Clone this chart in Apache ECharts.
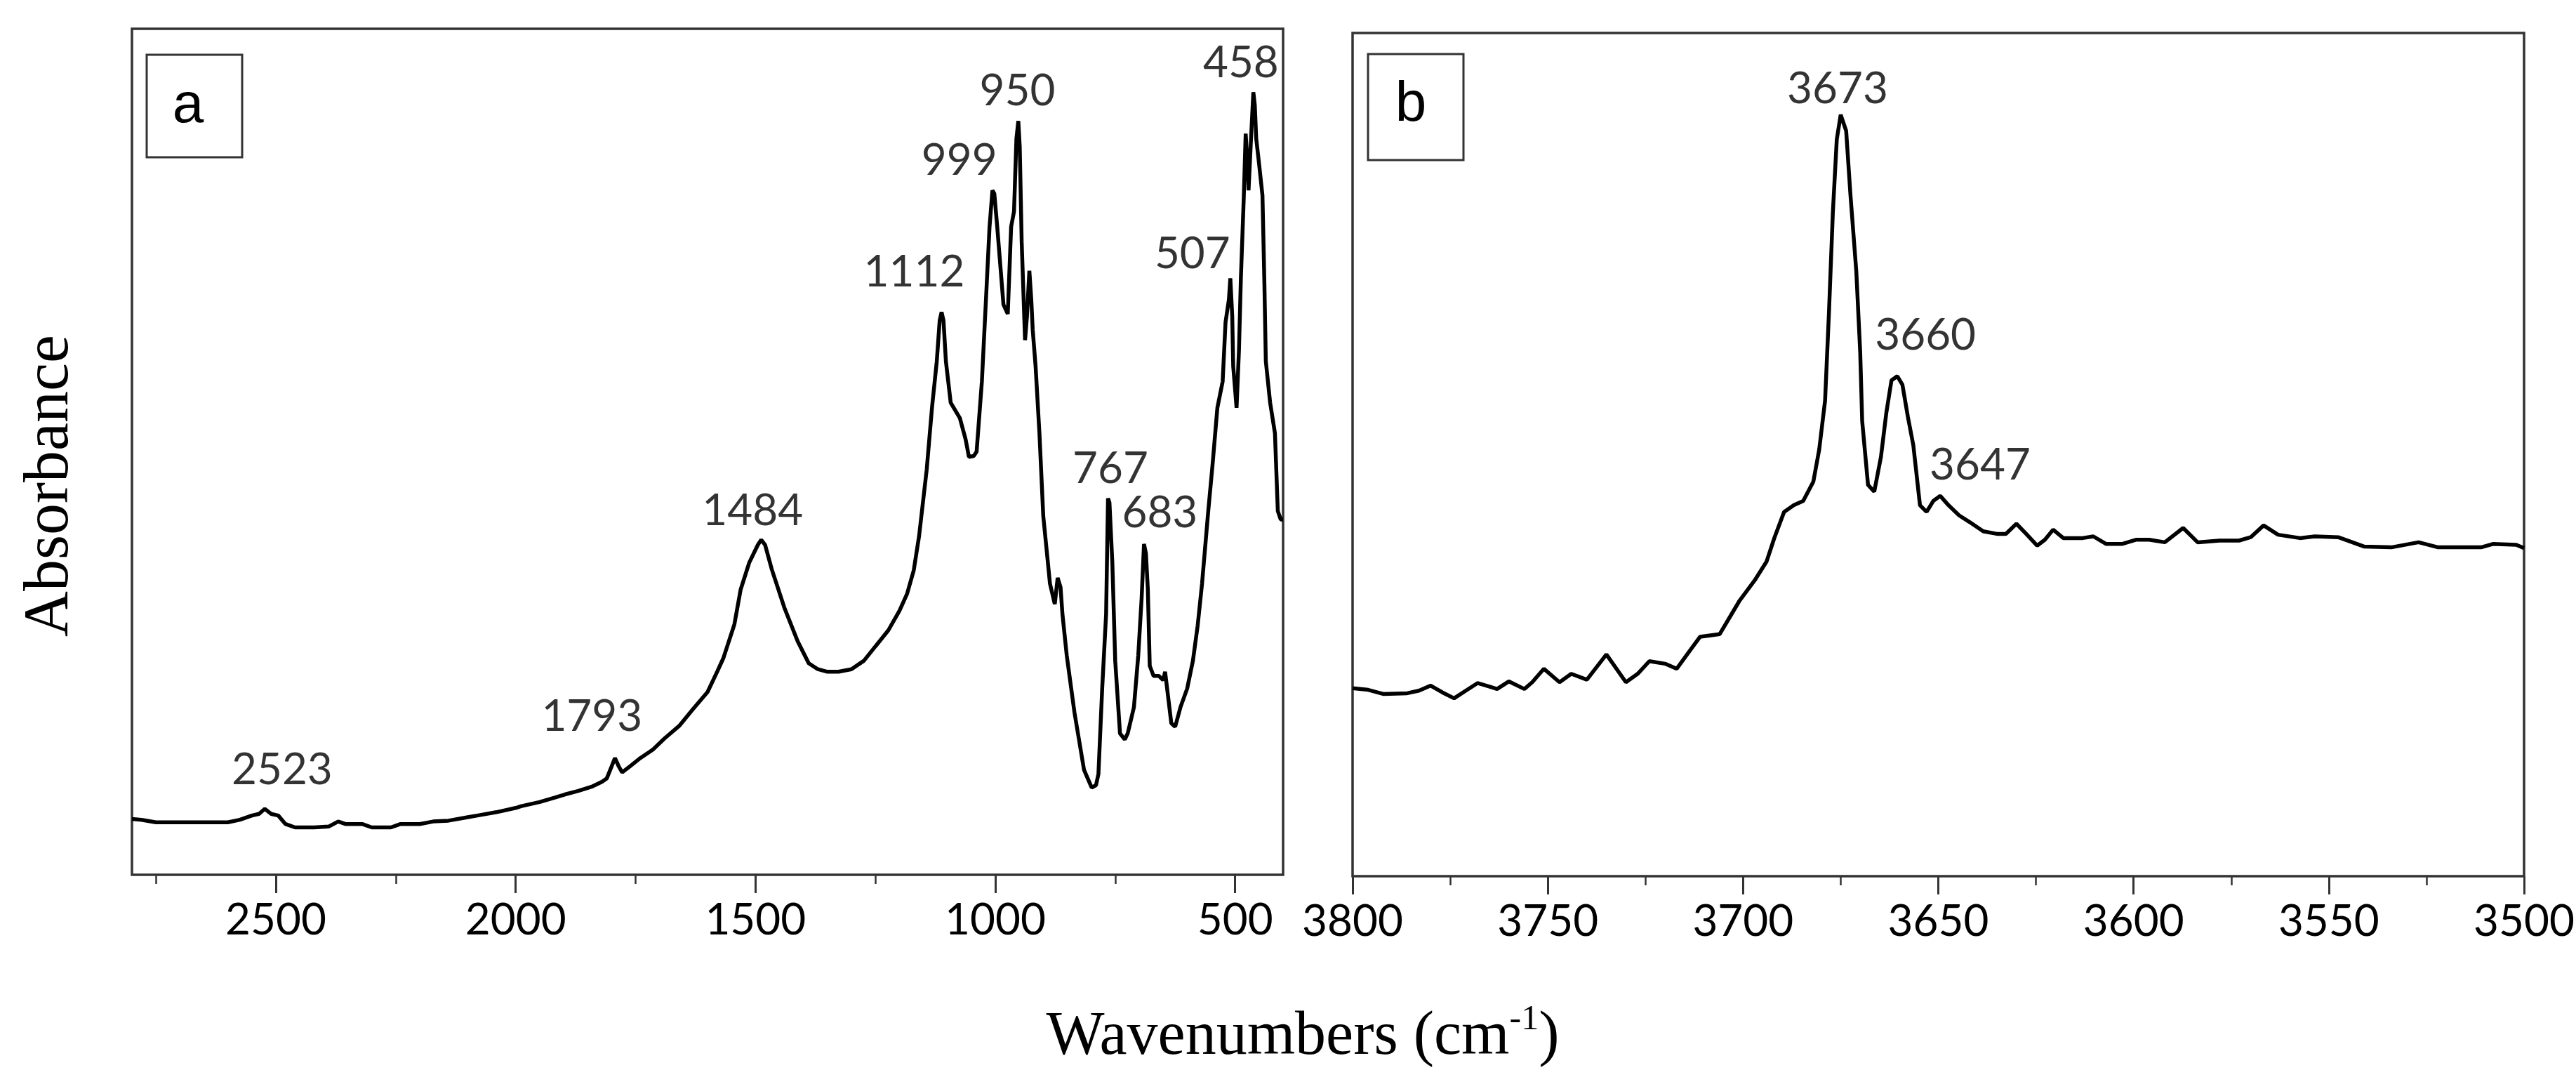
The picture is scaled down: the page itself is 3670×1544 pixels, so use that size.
<!DOCTYPE html>
<html>
<head>
<meta charset="utf-8">
<script src="https://cdn.jsdelivr.net/npm/echarts@6/dist/echarts.min.js"></script>
<style>
  html, body { margin: 0; padding: 0; background: #fff; }
  #chart { width: 3670px; height: 1544px; }
</style>
</head>
<body>
<div id="chart"></div>
<script>
// panel a: full spectrum, wavenumber (cm-1) and absorbance (arbitrary units)
var waveA = [2800, 2780, 2750, 2700, 2650, 2600, 2575, 2550, 2535, 2523, 2510, 2495, 2480, 2460, 2420, 2390,
    2370, 2355, 2320, 2300, 2260, 2240, 2200, 2172, 2140, 2100, 2080, 2040, 2000, 1989, 1950, 1920, 1897,
    1870, 1842, 1820, 1810, 1800, 1793, 1785, 1778, 1760, 1740, 1714, 1690, 1659, 1630, 1600, 1580, 1567,
    1544, 1531, 1513, 1495, 1488, 1480, 1466, 1440, 1412, 1389, 1370, 1350, 1327, 1300, 1274, 1250, 1223,
    1200, 1184, 1170, 1159, 1143, 1132, 1122, 1116, 1112, 1108, 1103, 1093, 1074, 1062, 1055, 1045, 1039,
    1028, 1020, 1012, 1006, 1002, 996, 983, 974, 967, 961, 956, 952, 949, 945, 938, 934, 929, 925, 922,
    916, 908, 900, 886, 876, 870, 864, 860, 851, 835, 815, 799, 790, 785, 777, 769, 765, 762, 756, 750,
    740, 730, 724, 711, 702, 695, 690, 686, 682, 678, 670, 659, 650, 646, 633, 625, 614, 600, 588, 578,
    569, 556, 547, 537, 526, 520, 513, 510, 506, 504, 497, 492, 488, 482, 478, 474, 472, 466, 462, 459,
    456, 450, 443, 439, 436, 427, 417, 411, 405, 400];
var absA = [6.6, 6.5, 6.2, 6.2, 6.2, 6.2, 6.5, 7.0, 7.2, 7.8, 7.2, 7.0, 6.0, 5.6, 5.6, 5.7,
    6.3, 6.0, 6.0, 5.6, 5.6, 6.0, 6.0, 6.3, 6.4, 6.8, 7.0, 7.4, 7.9, 8.1, 8.6, 9.1, 9.5,
    9.9, 10.4, 11.0, 11.4, 12.8, 13.8, 12.8, 12.1, 12.9, 13.8, 14.8, 16.1, 17.6, 19.6, 21.6, 24.0, 25.6,
    29.6, 33.7, 36.9, 39.0, 39.6, 39.0, 36.1, 31.6, 27.6, 25.0, 24.3, 24.0, 24.0, 24.3, 25.3, 27.0, 28.9,
    31.2, 33.2, 36.0, 40.0, 47.9, 55.2, 60.7, 65.5, 66.5, 65.5, 60.7, 55.8, 54.0, 51.5, 49.4, 49.5, 50.0,
    58.3, 67.4, 76.6, 80.9, 80.5, 76.6, 67.4, 66.3, 76.6, 78.4, 87.0, 89.1, 86.0, 74.8, 63.2, 66.0, 71.4, 68.0, 64.4,
    60.1, 52.2, 42.4, 34.4, 32.0, 35.1, 34.0, 30.8, 25.9, 19.2, 12.4, 10.3, 10.6, 11.9, 22.2, 30.8, 44.5, 44.0, 36.9, 25.3,
    16.7, 16.0, 16.7, 19.8, 25.9, 32.6, 39.1, 38.0, 33.8, 24.7, 23.5, 23.5, 23.0, 24.0, 17.9, 17.5, 19.8, 22.0, 25.3, 29.5,
    34.4, 43.0, 48.5, 55.2, 58.3, 65.3, 68.0, 70.5, 66.0, 60.1, 55.2, 62.0, 70.5, 80.0, 87.6, 84.0, 80.9, 88.0, 92.5, 91.0,
    87.0, 84.0, 80.3, 70.0, 60.7, 55.8, 52.2, 43.0, 42.0, 42.0];

// panel b: OH stretching region
var waveB = [3800, 3796, 3792, 3786, 3783, 3780, 3777, 3774, 3771, 3768, 3765, 3763, 3760, 3756, 3754, 3751,
    3747, 3744, 3740, 3735, 3730, 3727, 3724, 3720, 3717, 3714, 3711, 3706, 3701, 3697, 3694, 3692, 3689.5,
    3687, 3684.6, 3682, 3680.5, 3679, 3678, 3677, 3676, 3675, 3673.6, 3672.5, 3671, 3670, 3669.5, 3668,
    3666.4, 3664.7, 3663.3, 3662, 3660.5, 3659.2, 3657.8, 3656.4, 3654.7, 3653, 3651.3, 3649.5, 3647.4,
    3644.7, 3642, 3638.5, 3635, 3632.7, 3630, 3627.5, 3624.7, 3622.7, 3620.6, 3618, 3613, 3610.3, 3607,
    3603, 3599.4, 3596, 3592, 3587.3, 3583.6, 3578, 3573, 3570, 3566.7, 3563, 3557.4, 3553.6, 3547.6,
    3541, 3534, 3527, 3522, 3511, 3508, 3502, 3500];
var absB = [22.3, 22.1, 21.6, 21.7, 22.0, 22.6, 21.8, 21.1, 22.0, 22.9, 22.5, 22.2, 23.1, 22.2, 23.0, 24.6,
    23.0, 24.0, 23.3, 26.3, 23.0, 24.0, 25.5, 25.2, 24.6, 26.5, 28.4, 28.7, 32.6, 35.1, 37.3, 40.1, 43.2,
    44.0, 44.5, 46.8, 50.6, 56.4, 66.9, 78.8, 87.4, 90.3, 88.4, 80.8, 71.7, 62.1, 54.0, 46.4,
    45.6, 49.7, 55.0, 58.8, 59.3, 58.3, 54.5, 51.1, 44.0, 43.2, 44.5, 45.1, 44.0,
    42.8, 42.0, 40.9, 40.6, 40.6, 41.8, 40.6, 39.2, 39.9, 41.1, 40.1, 40.1, 40.3, 39.4,
    39.4, 39.9, 39.9, 39.6, 41.3, 39.6, 39.8, 39.8, 40.2, 41.6, 40.5, 40.1, 40.3, 40.2,
    39.1, 39.0, 39.6, 39.0, 39.0, 39.4, 39.3, 38.9];

// peak labels (text, and where the label sits in data units)
var peakTextA = ['2523', '1793', '1484', '1112', '999', '950', '767', '683', '507', '458'];
var peakXA = [2487, 1841, 1506, 1169, 1075, 954, 760, 657, 589, 488];
var peakYA = [12.4, 18.7, 43.0, 71.2, 84.4, 92.6, 48.0, 42.7, 73.4, 95.9];
var peakTextB = ['3673', '3660', '3647'];
var peakXB = [3675.8, 3653.3, 3639.3];
var peakYB = [93.3, 64.1, 48.7];

// tick positions
var majorTicksA = [500, 1000, 1500, 2000, 2500];
var minorTicksA = [750, 1250, 1750, 2250, 2750];

function zip(xs, ys) {
    return xs.map(function (x, i) { return [x, ys[i]]; });
}
function peakData(texts, xs, ys) {
    return texts.map(function (t, i) { return { name: t, value: [xs[i], ys[i]] }; });
}
function plain(v) {
    return String(v);
}

var tickFont = 'Lato';
var black = '#000';
var frame = '#333';

var chart = echarts.init(document.getElementById('chart'), null, { renderer: 'canvas' });

var peakLabel = {
    show: true,
    position: 'inside',
    formatter: '{b}',
    color: black,
    fontFamily: tickFont,
    fontSize: 62
};

chart.setOption({
    animation: false,
    backgroundColor: '#fff',
    grid: [
        { left: 188, top: 41, width: 1640, height: 1205, show: true, borderColor: frame, borderWidth: 3.5,
          backgroundColor: 'transparent', outerBoundsMode: 'none', containLabel: false },
        { left: 1927, top: 47, width: 1669, height: 1201, show: true, borderColor: frame, borderWidth: 3.5,
          backgroundColor: 'transparent', outerBoundsMode: 'none', containLabel: false }
    ],
    xAxis: [
        {
            type: 'value', gridIndex: 0, position: 'bottom', min: 400, max: 2800, inverse: true,
            axisLine: { show: false },
            splitLine: { show: false },
            axisTick: { show: true, inside: false, length: 26, customValues: majorTicksA,
                        lineStyle: { color: frame, width: 3 } },
            axisLabel: { show: true, customValues: majorTicksA, margin: 34, color: black,
                         fontFamily: tickFont, fontSize: 62, formatter: plain }
        },
        {
            type: 'value', gridIndex: 0, position: 'bottom', min: 400, max: 2800, inverse: true,
            axisLine: { show: false },
            splitLine: { show: false },
            axisTick: { show: true, inside: false, length: 13, customValues: minorTicksA,
                        lineStyle: { color: frame, width: 2.5 } },
            axisLabel: { show: false }
        },
        {
            type: 'value', gridIndex: 1, position: 'bottom', min: 3500, max: 3800, interval: 50, inverse: true,
            axisLine: { show: false },
            splitLine: { show: false },
            axisTick: { show: true, inside: false, length: 26, lineStyle: { color: frame, width: 3 } },
            minorTick: { show: true, splitNumber: 2, length: 13, lineStyle: { color: frame, width: 2.5 } },
            minorSplitLine: { show: false },
            axisLabel: { show: true, margin: 34, color: black, fontFamily: tickFont, fontSize: 62,
                         showMinLabel: true, showMaxLabel: true, formatter: plain }
        }
    ],
    yAxis: [
        { type: 'value', gridIndex: 0, min: 0, max: 100, axisLine: { show: false }, axisTick: { show: false },
          axisLabel: { show: false }, splitLine: { show: false } },
        { type: 'value', gridIndex: 1, min: 0, max: 100, axisLine: { show: false }, axisTick: { show: false },
          axisLabel: { show: false }, splitLine: { show: false } }
    ],
    series: [
        {
            type: 'line', xAxisIndex: 0, yAxisIndex: 0, data: zip(waveA, absA),
            showSymbol: false, symbol: 'none', lineStyle: { color: black, width: 5.5 }, z: 3
        },
        {
            type: 'line', xAxisIndex: 2, yAxisIndex: 1, data: zip(waveB, absB),
            showSymbol: false, symbol: 'none', lineStyle: { color: black, width: 5.5 }, z: 3
        },
        {
            type: 'scatter', xAxisIndex: 0, yAxisIndex: 0, data: peakData(peakTextA, peakXA, peakYA),
            symbolSize: 1, itemStyle: { color: 'rgba(0,0,0,0)' }, label: peakLabel, z: 4
        },
        {
            type: 'scatter', xAxisIndex: 2, yAxisIndex: 1, data: peakData(peakTextB, peakXB, peakYB),
            symbolSize: 1, itemStyle: { color: 'rgba(0,0,0,0)' }, label: peakLabel, z: 4
        }
    ],
    graphic: [
        // panel tags
        { type: 'rect', shape: { x: 209, y: 78, width: 136, height: 146 },
          style: { fill: '#fff', stroke: frame, lineWidth: 3 }, z: 10 },
        { type: 'text', x: 268, y: 152, z: 11,
          style: { text: 'a', fill: black, fontFamily: 'Liberation Sans', fontSize: 80,
                   align: 'center', verticalAlign: 'middle' } },
        { type: 'rect', shape: { x: 1949, y: 77, width: 136, height: 151 },
          style: { fill: '#fff', stroke: frame, lineWidth: 3 }, z: 10 },
        { type: 'text', x: 2010, y: 150, z: 11,
          style: { text: 'b', fill: black, fontFamily: 'Liberation Sans', fontSize: 80,
                   align: 'center', verticalAlign: 'middle' } },
        // axis titles
        { type: 'text', x: 72, y: 692, rotation: Math.PI / 2,
          style: { text: 'Absorbance', fill: black, fontFamily: 'Liberation Serif', fontSize: 90,
                   align: 'center', verticalAlign: 'middle' } },
        { type: 'text', x: 1856, y: 1478,
          style: {
              text: '{m|Wavenumbers (cm}{s|-1}{m|)}',
              align: 'center', verticalAlign: 'middle',
              rich: {
                  m: { fontFamily: 'Liberation Serif', fontSize: 88, lineHeight: 100, fill: black },
                  s: { fontFamily: 'Liberation Serif', fontSize: 50, lineHeight: 44, verticalAlign: 'top', fill: black }
              }
          } }
    ]
});
</script>
</body>
</html>
